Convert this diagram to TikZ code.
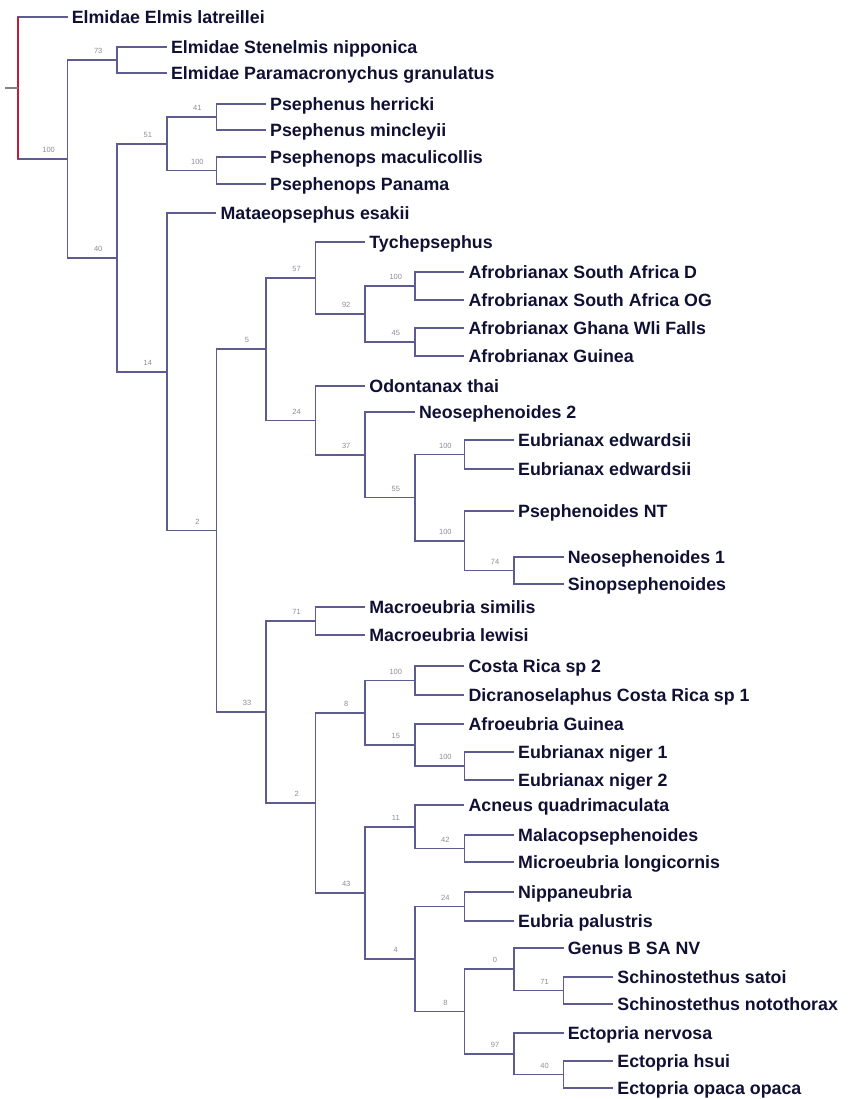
\documentclass[tikz,border=0pt]{standalone}
\usepackage{fontspec}
\setmainfont{Liberation Sans}
\usetikzlibrary{calc}
\definecolor{branch}{RGB}{92,92,145}
\definecolor{rootred}{RGB}{190,30,60}
\definecolor{stubgray}{RGB}{130,130,130}
\definecolor{taxon}{RGB}{16,16,52}
\definecolor{boot}{RGB}{140,140,155}
\tikzset{
  br/.style={draw=branch, line width=1.6pt},
  rootline/.style={draw=rootred, line width=1.7pt},
  leaf/.style={anchor=west, inner xsep=4pt, inner ysep=0pt, text height=12.8pt, text depth=0pt,
    text=taxon, font=\fontsize{17.8}{20}\selectfont\bfseries},
  bs/.style={text=boot, font=\fontsize{7.5}{8}\selectfont, inner sep=0pt}
}
\begin{document}
\begin{tikzpicture}[x=1pt,y=-1pt]
\useasboundingbox (0,0) rectangle (853,1099);
% internal nodes
\coordinate (stub) at (5,88);
\coordinate (root) at (18,88);
\coordinate (A) at (67.6,158.9);
\coordinate (B) at (117.2,60);
\coordinate (C) at (117.2,257.8);
\coordinate (D) at (166.8,143.75);
\coordinate (E) at (166.8,371.8);
\coordinate (F) at (216.4,117);
\coordinate (G) at (216.4,170.5);
\coordinate (H) at (216.4,530.6);
\coordinate (I) at (266,349.2);
\coordinate (J) at (266,711.9);
\coordinate (K) at (315.6,278);
\coordinate (L) at (315.6,420.4);
\coordinate (U) at (315.6,621);
\coordinate (V) at (315.6,802.8);
\coordinate (M) at (365.2,314);
\coordinate (P) at (365.2,454.8);
\coordinate (W) at (365.2,712.75);
\coordinate (X) at (365.2,892.9);
\coordinate (N) at (414.8,286);
\coordinate (O) at (414.8,342);
\coordinate (Q) at (414.8,497.6);
\coordinate (Y) at (414.8,680.5);
\coordinate (Z) at (414.8,745);
\coordinate (AB) at (414.8,826.75);
\coordinate (AC) at (414.8,959);
\coordinate (R) at (464.4,454.5);
\coordinate (S) at (464.4,540.75);
\coordinate (AA) at (464.4,766);
\coordinate (AD) at (464.4,848.5);
\coordinate (AE) at (464.4,906.5);
\coordinate (AF) at (464.4,1011.5);
\coordinate (T) at (514,570.5);
\coordinate (AG) at (514,969.25);
\coordinate (AH) at (514,1053.75);
\coordinate (AI) at (563.6,990.5);
\coordinate (AJ) at (563.6,1074.5);
% leaves
\node[leaf] (l1) at (67.6,17) {Elmidae Elmis latreillei};
\node[leaf] (l2) at (166.8,47) {Elmidae Stenelmis nipponica};
\node[leaf] (l3) at (166.8,73) {Elmidae Paramacronychus granulatus};
\node[leaf] (l4) at (266,104) {Psephenus herricki};
\node[leaf] (l5) at (266,130) {Psephenus mincleyii};
\node[leaf] (l6) at (266,157) {Psephenops maculicollis};
\node[leaf] (l7) at (266,184) {Psephenops Panama};
\node[leaf] (l8) at (216.4,213) {Mataeopsephus esakii};
\node[leaf] (l9) at (365.2,242) {Tychepsephus};
\node[leaf] (l10) at (464.4,272) {Afrobrianax South Africa D};
\node[leaf] (l11) at (464.4,300) {Afrobrianax South Africa OG};
\node[leaf] (l12) at (464.4,328) {Afrobrianax Ghana Wli Falls};
\node[leaf] (l13) at (464.4,356) {Afrobrianax Guinea};
\node[leaf] (l14) at (365.2,386) {Odontanax thai};
\node[leaf] (l15) at (414.8,412) {Neosephenoides 2};
\node[leaf] (l16) at (514,440) {Eubrianax edwardsii};
\node[leaf] (l17) at (514,469) {Eubrianax edwardsii};
\node[leaf] (l18) at (514,511) {Psephenoides NT};
\node[leaf] (l19) at (563.6,557) {Neosephenoides 1};
\node[leaf] (l20) at (563.6,584) {Sinopsephenoides};
\node[leaf] (l21) at (365.2,607) {Macroeubria similis};
\node[leaf] (l22) at (365.2,635) {Macroeubria lewisi};
\node[leaf] (l23) at (464.4,666) {Costa Rica sp 2};
\node[leaf] (l24) at (464.4,695) {Dicranoselaphus Costa Rica sp 1};
\node[leaf] (l25) at (464.4,724) {Afroeubria Guinea};
\node[leaf] (l26) at (514,752) {Eubrianax niger 1};
\node[leaf] (l27) at (514,780) {Eubrianax niger 2};
\node[leaf] (l28) at (464.4,805) {Acneus quadrimaculata};
\node[leaf] (l29) at (514,835) {Malacopsephenoides};
\node[leaf] (l30) at (514,862) {Microeubria longicornis};
\node[leaf] (l31) at (514,892) {Nippaneubria};
\node[leaf] (l32) at (514,921) {Eubria palustris};
\node[leaf] (l33) at (563.6,948) {Genus B SA NV};
\node[leaf] (l34) at (613.2,977) {Schinostethus satoi};
\node[leaf] (l35) at (613.2,1004) {Schinostethus notothorax};
\node[leaf] (l36) at (563.6,1033) {Ectopria nervosa};
\node[leaf] (l37) at (613.2,1061) {Ectopria hsui};
\node[leaf] (l38) at (613.2,1088) {Ectopria opaca opaca};
% branches to internal nodes
\foreach \p/\c in {root/A, A/B, A/C, C/D, C/E, D/F, D/G, E/H, H/I, H/J, I/K, I/L,
  K/M, M/N, M/O, L/P, P/Q, Q/R, Q/S, S/T, J/U, J/V, V/W, V/X, W/Y, W/Z, Z/AA,
  X/AB, X/AC, AB/AD, AC/AE, AC/AF, AF/AG, AF/AH, AG/AI, AH/AJ}
  \draw[br] (\p) |- (\c);
% branches to leaves
\foreach \p/\c in {root/l1, B/l2, B/l3, F/l4, F/l5, G/l6, G/l7, E/l8, K/l9,
  N/l10, N/l11, O/l12, O/l13, L/l14, P/l15, R/l16, R/l17, S/l18, T/l19, T/l20,
  U/l21, U/l22, Y/l23, Y/l24, Z/l25, AA/l26, AA/l27, AB/l28, AD/l29, AD/l30,
  AE/l31, AE/l32, AG/l33, AI/l34, AI/l35, AH/l36, AJ/l37, AJ/l38}
  \draw[br] (\p) |- (\c.west);
% root
\draw[rootline] (root |- l1.west) -- (root |- A);
\draw[draw=stubgray, line width=1.4pt] (stub) -- (root);
% bootstrap values
\foreach \n/\v in {A/100, B/73, C/40, D/51, E/14, F/41, G/100, H/2, I/5, J/33,
  K/57, L/24, M/92, N/100, O/45, P/37, Q/55, R/100, S/100, T/74, U/71, V/2,
  W/8, X/43, Y/100, Z/15, AA/100, AB/11, AC/4, AD/42, AE/24, AF/8, AG/0,
  AH/97, AI/71, AJ/40}
  \node[bs] at ($(\n)+(-19,-9)$) {\v};
\end{tikzpicture}
\end{document}
